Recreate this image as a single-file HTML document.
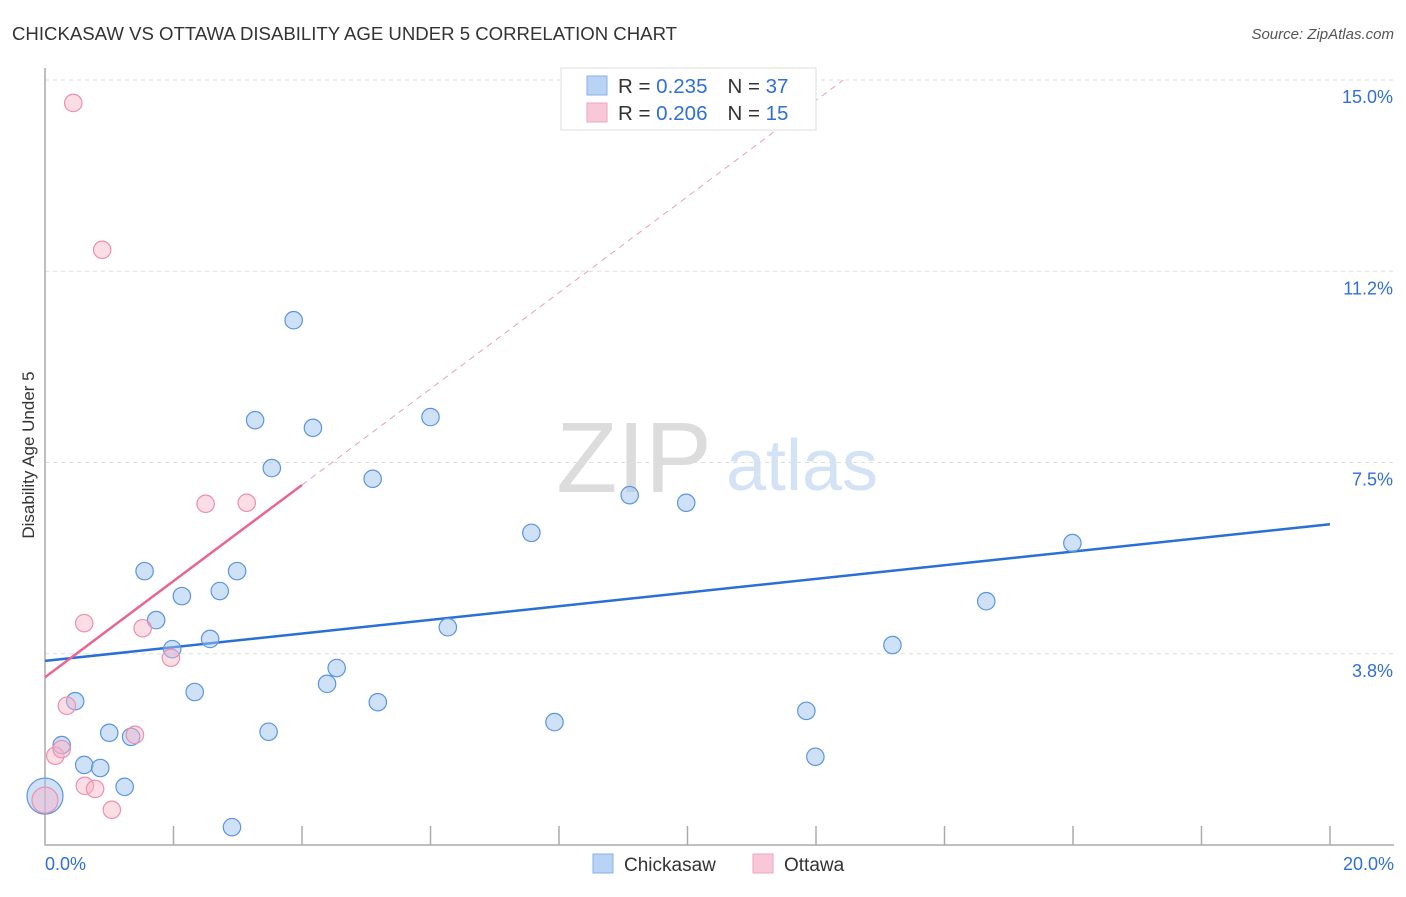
<!DOCTYPE html>
<html><head><meta charset="utf-8"><style>
body{margin:0;background:#fff;font-family:"Liberation Sans",sans-serif;}
svg text{font-family:"Liberation Sans",sans-serif;}
</style></head><body>
<svg width="1406" height="892" xmlns="http://www.w3.org/2000/svg">
<text x="12" y="40" font-size="18.6" fill="#333">CHICKASAW VS OTTAWA DISABILITY AGE UNDER 5 CORRELATION CHART</text>
<text x="1394" y="39" font-size="15" fill="#555" text-anchor="end" font-style="italic">Source: ZipAtlas.com</text>
<g>
<text x="634" y="492" font-size="100" fill="#dcdcdc" text-anchor="middle" font-family="Liberation Serif,serif">ZIP</text>
<text x="802" y="490" font-size="72" fill="#d4e2f5" text-anchor="middle">atlas</text>
</g>
<g id="grid"></g>
<g id="axes"></g>
<g id="lines"></g>
<g id="points"></g>
<text transform="translate(34,455) rotate(-90)" font-size="17" fill="#333" text-anchor="middle">Disability Age Under 5</text>
<g>
<rect x="561" y="68" width="255" height="62" fill="#fff" stroke="#ddd"/>
<rect x="587" y="76" width="20" height="19" fill="#b8d3f5" stroke="#8ab0e5"/>
<text x="618" y="93" font-size="20.5" fill="#333">R = <tspan fill="#2f6fd6">0.235</tspan><tspan dx="20">N = </tspan><tspan fill="#2f6fd6">37</tspan></text>
<rect x="587" y="103" width="20" height="19" fill="#f9c8d8" stroke="#eea5bd"/>
<text x="618" y="120" font-size="20.5" fill="#333">R = <tspan fill="#2f6fd6">0.206</tspan><tspan dx="20">N = </tspan><tspan fill="#2f6fd6">15</tspan></text>
</g>
<g>
<rect x="593" y="854" width="20" height="19" fill="#b8d3f5" stroke="#8ab0e5"/>
<text x="624" y="871" font-size="19" fill="#333">Chickasaw</text>
<rect x="753" y="854" width="20" height="19" fill="#f9c8d8" stroke="#eea5bd"/>
<text x="784" y="871" font-size="19" fill="#333">Ottawa</text>
</g>
</svg>
<script>
const blueX=[0,0.26,0.47,0.61,0.86,1.0,1.24,1.34,1.55,1.73,1.98,2.13,2.33,2.57,2.72,2.91,2.99,3.27,3.48,3.53,3.87,4.17,4.39,4.54,5.1,5.18,6.0,6.27,7.57,7.93,9.1,9.98,11.85,11.99,13.19,14.65,15.99];
const blueY=[0.96,1.96,2.82,1.57,1.51,2.2,1.14,2.12,5.37,4.41,3.84,4.88,3.0,4.04,4.98,0.35,5.37,8.33,2.22,7.39,10.29,8.18,3.16,3.47,7.18,2.8,8.39,4.27,6.12,2.41,6.86,6.71,2.63,1.73,3.92,4.78,5.92];
const pinkX=[0.44,0.89,0.61,0.34,0.16,0.26,0,0.62,0.78,1.04,1.4,1.52,1.96,2.5,3.14];
const pinkY=[14.55,11.67,4.35,2.73,1.75,1.88,0.88,1.16,1.1,0.69,2.16,4.25,3.67,6.69,6.71];
const yTicks=[3.75,7.5,11.25,15];
const yTickLabels=["3.8%","7.5%","11.2%","15.0%"];
const xTicks=[0,2,4,6,8,10,12,14,16,18,20];
const blueTrend=[3.61,6.29];
const pinkTrend=[3.29,7.06];
const pinkSlope=0.9425;
const NS="http://www.w3.org/2000/svg";
const X=v=>45+v*64.25, Y=v=>845-v*51.0;
function mk(p,t,a){const e=document.createElementNS(NS,t);for(const k in a)e.setAttribute(k,a[k]);p.appendChild(e);return e;}
const grid=document.getElementById('grid'),axes=document.getElementById('axes'),lines=document.getElementById('lines'),pts=document.getElementById('points');
yTicks.forEach((t,i)=>{
 const l=mk(grid,'line',{x1:45,x2:1394,y1:Y(t),y2:Y(t),stroke:'#ddd','stroke-dasharray':'4,4'});
 
 
 const tx=mk(axes,'text',{x:1393,y:Y(t)+23,'font-size':18,fill:'#2f6fd6','text-anchor':'end'});
 tx.textContent=yTickLabels[i];
 
 
});
const ax=mk(axes,'path',{d:`M45,68V845H1394`,fill:'none',stroke:'#aaa','stroke-width':1.5});


xTicks.slice(1).forEach(t=>{
 const l=mk(axes,'line',{x1:X(t),x2:X(t),y1:826,y2:845,stroke:'#aaa','stroke-width':1.5});
 
 
});
const xl=mk(axes,'text',{x:45,y:870,'font-size':18,fill:'#2f6fd6'});xl.textContent=xTicks[0].toFixed(1)+'%';


const xr=mk(axes,'text',{x:1394,y:870,'font-size':18,fill:'#2f6fd6','text-anchor':'end'});xr.textContent=xTicks[xTicks.length-1].toFixed(1)+'%';


const bl=mk(lines,'line',{x1:X(0),y1:Y(blueTrend[0]),x2:X(20),y2:Y(blueTrend[1]),stroke:'#2a6fd6','stroke-width':2.5});


const pl=mk(lines,'line',{x1:X(0),y1:Y(pinkTrend[0]),x2:X(4),y2:Y(pinkTrend[1]),stroke:'#e8668f','stroke-width':2.5});


const xe=(15-pinkTrend[0])/pinkSlope;
const pd=mk(lines,'line',{x1:X(4),y1:Y(pinkTrend[1]),x2:X(xe),y2:Y(15),stroke:'#e8a0b5','stroke-width':1,'stroke-dasharray':'6,5'});


blueX.forEach((x,i)=>{
 const c=mk(pts,'circle',{cx:X(x),cy:Y(blueY[i]),r:i===0?18:8.7,fill:'rgba(160,196,240,0.5)',stroke:'#5b95e0','stroke-width':1.2});
 
 
});
pinkX.forEach((x,i)=>{
 const c=mk(pts,'circle',{cx:X(x),cy:Y(pinkY[i]),r:x===0?13:8.7,fill:'rgba(246,180,200,0.45)',stroke:'#ee8fae','stroke-width':1.2});
 
 
});
</script>
</body></html>
